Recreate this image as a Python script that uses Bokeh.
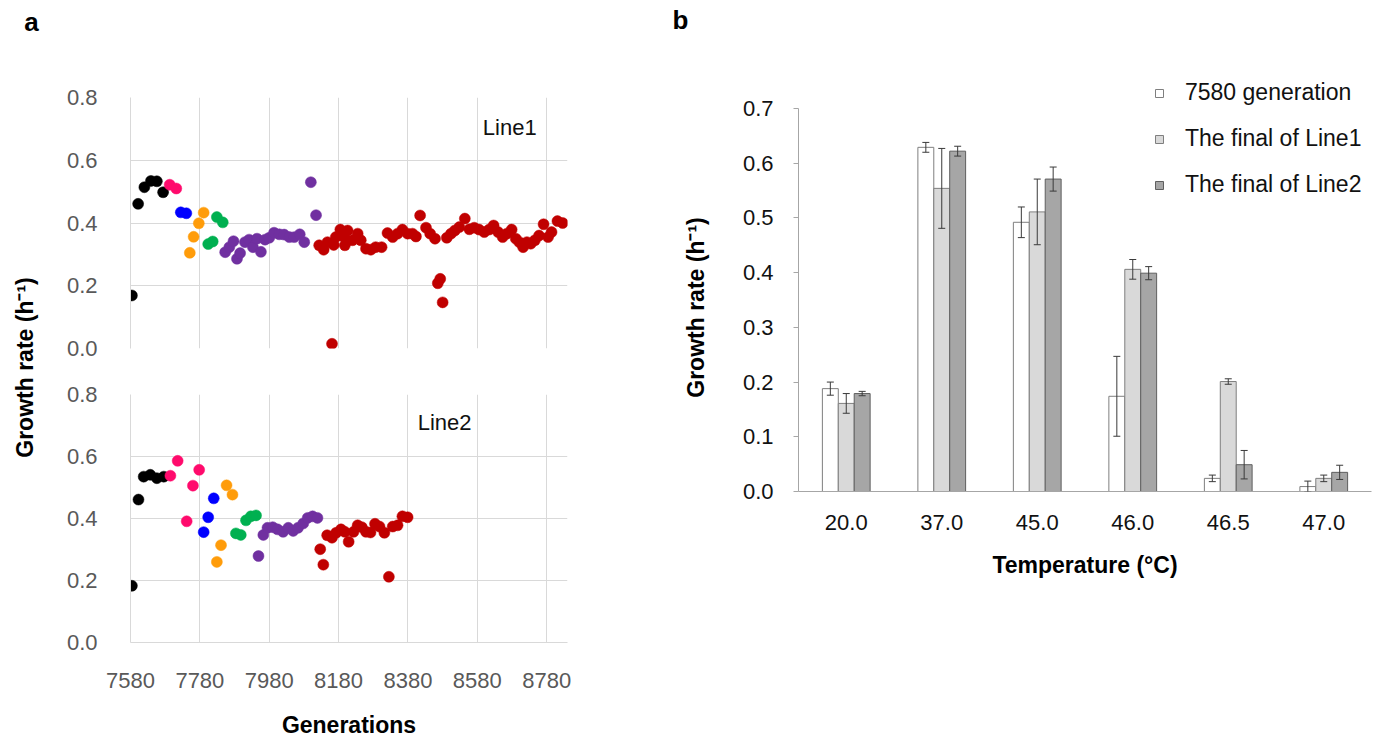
from math import pi
from bokeh.plotting import figure
from bokeh.models import (ColumnDataSource, Range1d, FactorRange, FixedTicker, Whisker,
                          TeeHead, Legend, LegendItem, Label, NumeralTickFormatter)
from bokeh.transform import dodge
from bokeh.layouts import row, column
from bokeh.embed import file_html
from bokeh.resources import INLINE
from bokeh.core.properties import value

FONT = "Liberation Sans"

# ---------------- Panel a data ----------------
line1_gen = [7584, 7602, 7620, 7639, 7656, 7674,
             7693, 7712,
             7725, 7741,
             7751, 7762, 7777, 7791,
             7804, 7817, 7829, 7846,
             7853, 7865, 7877, 7887, 7896, 7910, 7922, 7933, 7945, 7956, 7968, 7980, 7994,
             8009, 8023, 8038, 8052, 8068, 8081, 8100, 8115,
             8124, 8137, 8148, 8161, 8166, 8172, 8185, 8196, 8198, 8206, 8220, 8235, 8244,
             8259, 8273, 8287, 8304, 8321, 8336, 8350, 8364, 8379, 8393, 8403, 8415, 8432,
             8444, 8458, 8466, 8473, 8480, 8492, 8504, 8515, 8528, 8544, 8557, 8571, 8585,
             8600, 8614, 8627, 8640, 8653, 8665, 8679, 8691, 8701, 8712, 8723, 8734, 8746,
             8758, 8771, 8784, 8794, 8811, 8826]
line1_rate = [0.169, 0.461, 0.514, 0.534, 0.533, 0.498,
              0.522, 0.510,
              0.434, 0.431,
              0.305, 0.356, 0.399, 0.433,
              0.333, 0.341, 0.419, 0.402,
              0.307, 0.323, 0.342, 0.286, 0.304, 0.339, 0.347, 0.323, 0.350, 0.308, 0.347, 0.353, 0.369,
              0.364, 0.363, 0.355, 0.355, 0.364, 0.339, 0.530, 0.425,
              0.329, 0.315, 0.339, 0.015, 0.330, 0.355, 0.379, 0.355, 0.329, 0.376, 0.345, 0.366, 0.345,
              0.318, 0.315, 0.323, 0.323, 0.368, 0.355, 0.366, 0.379, 0.366, 0.366, 0.357, 0.424, 0.385,
              0.366, 0.350, 0.208, 0.222, 0.147, 0.353, 0.366, 0.376, 0.387, 0.414, 0.380, 0.385, 0.379,
              0.371, 0.379, 0.392, 0.371, 0.355, 0.366, 0.379, 0.350, 0.339, 0.323, 0.339, 0.334, 0.345,
              0.360, 0.396, 0.355, 0.371, 0.406, 0.400]
line1_phase_counts = [6, 2, 2, 4, 4, 21, 59]

line2_gen = [7584, 7603, 7618, 7637, 7656, 7676,
             7695, 7716, 7742, 7760, 7778,
             7791, 7804, 7820,
             7829, 7841, 7857, 7874,
             7884, 7898, 7913, 7927, 7942,
             7949, 7963, 7975, 7990, 8004, 8020, 8035, 8049, 8063, 8078, 8091, 8105, 8119,
             8127, 8136, 8147, 8161, 8173, 8187, 8198, 8209, 8223, 8235, 8247, 8259, 8272,
             8285, 8298, 8312, 8325, 8336, 8350, 8364, 8379]
line2_rate = [0.183, 0.461, 0.535, 0.541, 0.530, 0.535,
              0.538, 0.586, 0.391, 0.506, 0.557,
              0.356, 0.404, 0.465,
              0.260, 0.314, 0.507, 0.477,
              0.352, 0.347, 0.394, 0.407, 0.410,
              0.279, 0.347, 0.370, 0.372, 0.365, 0.357, 0.370, 0.360, 0.370, 0.384, 0.402, 0.407, 0.402,
              0.301, 0.251, 0.346, 0.338, 0.354, 0.365, 0.357, 0.325, 0.357, 0.378, 0.372, 0.357, 0.355,
              0.383, 0.374, 0.354, 0.212, 0.374, 0.378, 0.407, 0.404]
line2_phase_counts = [6, 5, 3, 4, 5, 13, 21]

phase_colors = ["#000000", "#ff0a6c", "#0000ff", "#ff9c0a", "#00b050", "#7030a0", "#c00000"]

gen_ticks = [7580, 7780, 7980, 8180, 8380, 8580, 8780]
rate_ticks_a = [0.0, 0.2, 0.4, 0.6, 0.8]

# ---------------- Panel b data ----------------
temps = ["20.0", "37.0", "45.0", "46.0", "46.5", "47.0"]
gen7580 = [0.188, 0.629, 0.492, 0.174, 0.024, 0.009]
gen7580_err = [0.012, 0.009, 0.028, 0.073, 0.006, 0.010]
final_line1 = [0.161, 0.554, 0.511, 0.406, 0.201, 0.024]
final_line1_err = [0.018, 0.073, 0.060, 0.018, 0.005, 0.006]
final_line2 = [0.179, 0.622, 0.571, 0.399, 0.049, 0.035]
final_line2_err = [0.004, 0.009, 0.022, 0.012, 0.026, 0.013]
series_names = ["7580 generation", "The final of Line1", "The final of Line2"]
rate_ticks_b = [0.0, 0.1, 0.2, 0.3, 0.4, 0.5, 0.6, 0.7]


def phase_color_list(counts):
    out = []
    for c, n in zip(phase_colors, counts):
        out += [c] * n
    return out


GRID = "#d9d9d9"
TICKGRAY = "#595959"


def scatter_panel(gen, rate, counts, tag, tag_x, tag_y, bottom):
    p = figure(width=620, height=370, x_range=Range1d(7580, 8840), y_range=Range1d(0, 0.8),
               min_border_left=90, min_border_right=93,
               min_border_top=97 if not bottom else 24,
               min_border_bottom=22 if not bottom else 96,
               output_backend="svg", toolbar_location=None, outline_line_color=None,
               background_fill_color="white", border_fill_color="white")
    src = ColumnDataSource(dict(x=gen, y=rate, c=phase_color_list(counts)))
    p.scatter("x", "y", source=src, size=11, fill_color="c", line_color="c", line_width=0.5)
    p.xaxis.ticker = FixedTicker(ticks=gen_ticks)
    p.yaxis.ticker = FixedTicker(ticks=rate_ticks_a)
    p.yaxis.formatter = NumeralTickFormatter(format="0.0")
    for ax in (p.xaxis[0], p.yaxis[0]):
        ax.axis_line_color = GRID
        ax.major_tick_line_color = None
        ax.minor_tick_line_color = None
        ax.major_tick_out = 0
        ax.major_tick_in = 0
        ax.major_label_text_font = FONT
        ax.major_label_text_font_size = "22px"
        ax.major_label_text_color = TICKGRAY
    p.yaxis.major_label_standoff = 33
    if bottom:
        p.xaxis.major_label_standoff = 30
        p.xaxis.axis_label = "Generations"
        p.xaxis.axis_label_text_font = FONT
        p.xaxis.axis_label_text_font_style = "bold"
        p.xaxis.axis_label_text_font_size = "23px"
        p.xaxis.axis_label_text_color = "#000000"
        p.xaxis.axis_label_standoff = 21
    else:
        p.xaxis.visible = False
    p.grid.grid_line_color = GRID
    p.grid.grid_line_width = 1
    p.add_layout(Label(x=tag_x, y=tag_y, text=tag, text_font=FONT, text_font_size="22px",
                       text_color="#111111", text_baseline="middle", text_align="left"))
    return p


pa1 = scatter_panel(line1_gen, line1_rate, line1_phase_counts, "Line1", 8596, 0.705, False)
pa2 = scatter_panel(line2_gen, line2_rate, line2_phase_counts, "Line2", 8408, 0.71, True)


def strip(width, items):
    s = figure(width=width, height=740, x_range=Range1d(0, width), y_range=Range1d(0, 740),
               min_border=0, x_axis_location=None, y_axis_location=None,
               outline_line_color=None, output_backend="svg", toolbar_location=None)
    s.grid.visible = False
    for (x, y, t, size, ang) in items:
        s.text(x=[x], y=[y], text=[t], angle=ang, text_font=value(FONT), text_font_style="bold",
               text_font_size=size, text_align="center", text_baseline="middle", text_color="#000000")
    return s


ylab = "Growth rate (h\u207b\u00b9)"
strip_a = strip(40, [(31, 719, "a", "26px", 0), (24, 373, ylab, "23px", pi / 2)])
strip_b = strip(60, [(20, 721, "b", "26px", 0), (35, 433, ylab, "23px", pi / 2)])

# ---------------- Panel b ----------------
Y_TOP = 0.7877
pb = figure(width=660, height=740, x_range=FactorRange(factors=temps), y_range=Range1d(0, Y_TOP),
            min_border_left=78, min_border_right=9, min_border_top=60, min_border_bottom=249,
            output_backend="svg", toolbar_location=None, outline_line_color=None)
pb.grid.visible = False

bsrc = ColumnDataSource(dict(
    t=temps,
    g=gen7580, g_lo=[v - e for v, e in zip(gen7580, gen7580_err)], g_hi=[v + e for v, e in zip(gen7580, gen7580_err)],
    a=final_line1, a_lo=[v - e for v, e in zip(final_line1, final_line1_err)], a_hi=[v + e for v, e in zip(final_line1, final_line1_err)],
    b=final_line2, b_lo=[v - e for v, e in zip(final_line2, final_line2_err)], b_hi=[v + e for v, e in zip(final_line2, final_line2_err)],
))
bw = 1 / 6
fills = ["#ffffff", "#d9d9d9", "#a6a6a6"]
outlines = ["#7f7f7f", "#7f7f7f", "#5f5f5f"]
renderers = []
for off, col, fill, oc in zip([-bw, 0, bw], ["g", "a", "b"], fills, outlines):
    r = pb.vbar(x=dodge("t", off, range=pb.x_range), top=col, width=bw, source=bsrc,
                fill_color=fill, line_color=oc, line_width=1)
    renderers.append(r)
    wk = Whisker(source=bsrc, base=dodge("t", off, range=pb.x_range), lower=col + "_lo", upper=col + "_hi",
                 line_color="#3a3a3a", line_width=1, level="overlay",
                 upper_head=TeeHead(size=7, line_color="#3a3a3a", line_width=1),
                 lower_head=TeeHead(size=7, line_color="#3a3a3a", line_width=1))
    pb.add_layout(wk)

pb.yaxis.ticker = FixedTicker(ticks=rate_ticks_b)
pb.yaxis.formatter = NumeralTickFormatter(format="0.0")
pb.yaxis.bounds = (0, 0.7)
for ax in (pb.xaxis[0], pb.yaxis[0]):
    ax.axis_line_color = "#a6a6a6"
    ax.major_tick_line_color = "#a6a6a6"
    ax.minor_tick_line_color = None
    ax.major_tick_in = 0
    ax.major_label_text_font = FONT
    ax.major_label_text_font_size = "22px"
    ax.major_label_text_color = "#111111"
pb.yaxis.major_tick_out = 5
pb.yaxis.major_label_standoff = 20
pb.xaxis.major_tick_out = 0
pb.xaxis.major_tick_line_color = None
pb.xaxis.major_label_standoff = 23
pb.xaxis.axis_label = "Temperature (\u00b0C)"
pb.xaxis.axis_label_text_font = FONT
pb.xaxis.axis_label_text_font_style = "bold"
pb.xaxis.axis_label_text_font_size = "23px"
pb.xaxis.axis_label_text_color = "#000000"
pb.xaxis.axis_label_standoff = 19

legend = Legend(items=[LegendItem(label=n, renderers=[r]) for n, r in zip(series_names, renderers)],
                location=(356, 293), orientation="vertical", border_line_color=None,
                background_fill_alpha=0, padding=0, margin=0, spacing=19,
                glyph_width=10, glyph_height=10, label_standoff=21,
                label_text_font=FONT, label_text_font_size="23px", label_text_color="#111111")
pb.add_layout(legend)

layout = row(column(strip_a), column(pa1, pa2), column(strip_b), column(pb))
open("out.html", "w").write(file_html(layout, INLINE))
